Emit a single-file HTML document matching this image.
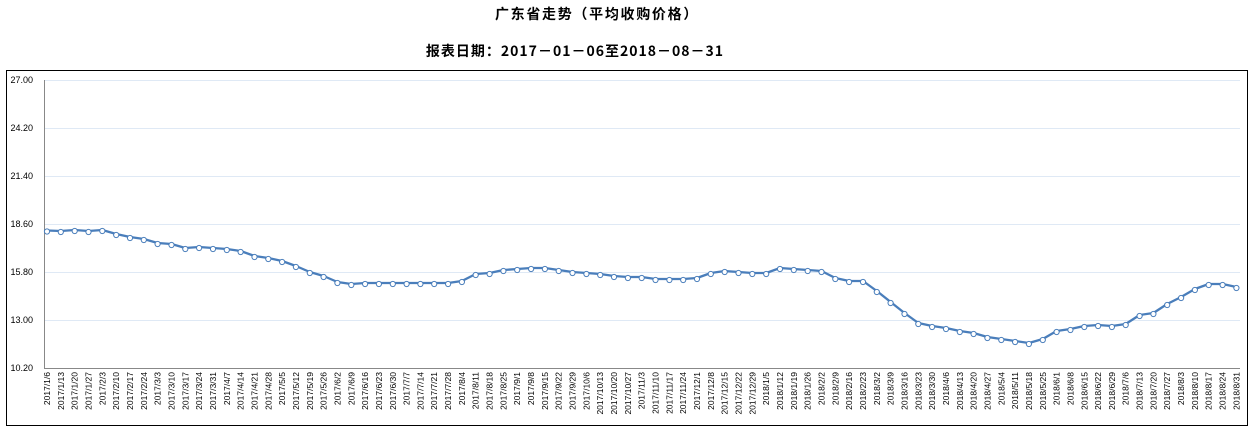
<!DOCTYPE html>
<html><head><meta charset="utf-8"><style>
body{margin:0;background:#fff;}
svg{display:block;font-family:"Liberation Sans","Noto Sans CJK SC",sans-serif;}
.t{font-family:"Noto Sans CJK SC","WenQuanYi Zen Hei",sans-serif;font-weight:bold;font-size:14px;}
.y{font-size:9px;fill:#000;text-anchor:end;}
.x text{font-size:8.5px;fill:#000;text-anchor:end;}
</style></head><body>
<svg width="1252" height="431" viewBox="0 0 1252 431">
<text class="t" x="597" y="19" text-anchor="middle" letter-spacing="1.7">广东省走势（平均收购价格）</text>
<text class="t" x="575" y="56" text-anchor="middle" letter-spacing="1">报表日期：2017－01－06至2018－08－31</text>
<rect x="6.5" y="70.5" width="1241" height="355" fill="none" stroke="#000" stroke-width="1"/>
<g stroke="#dfe9f5" stroke-width="1">
<line x1="44" y1="80.5" x2="1240" y2="80.5"/><line x1="44" y1="128.5" x2="1240" y2="128.5"/>
<line x1="44" y1="176.5" x2="1240" y2="176.5"/><line x1="44" y1="224.5" x2="1240" y2="224.5"/>
<line x1="44" y1="272.5" x2="1240" y2="272.5"/><line x1="44" y1="320.5" x2="1240" y2="320.5"/>
</g>
<line x1="44.5" y1="80" x2="44.5" y2="368" stroke="#888"/>
<line x1="44" y1="368.5" x2="1240" y2="368.5" stroke="#888"/>
<g class="y">
<text x="33" y="83">27.00</text><text x="33" y="131">24.20</text><text x="33" y="179">21.40</text>
<text x="33" y="227">18.60</text><text x="33" y="275">15.80</text><text x="33" y="323">13.00</text><text x="33" y="371">10.20</text>
</g>
<defs><marker id="m" markerWidth="8" markerHeight="8" refX="4" refY="3" markerUnits="userSpaceOnUse"><circle cx="4" cy="4" r="2.6" fill="#fff" stroke="#4a7ebb" stroke-width="1"/></marker></defs>
<polyline fill="none" stroke="#4a7ebb" stroke-width="2.3" stroke-linejoin="round" marker-start="url(#m)" marker-mid="url(#m)" marker-end="url(#m)" points="47,230.5 60.8,231 74.7,230 88.5,231 102.3,230 116.2,234 130,237 143.8,239 157.6,243 171.5,244 185.3,248 199.1,247 213,248 226.8,249 240.6,251 254.5,256 268.3,258 282.1,261 295.9,266 309.8,272 323.6,276 337.4,282 351.3,284 365.1,283 378.9,283 392.8,283 406.6,283 420.4,283 434.2,283 448.1,283 461.9,281 475.7,274 489.6,273 503.4,270 517.2,269 531.1,268 544.9,268 558.7,270 572.5,272 586.4,273 600.2,274 614,276 627.9,277 641.7,277 655.5,279 669.4,279 683.2,279 697,278 710.8,273 724.7,271 738.5,272 752.3,273 766.2,273 780,268 793.8,269 807.7,270 821.5,271 835.3,278 849.1,281 863,281 876.8,291 890.6,302 904.5,313 918.3,323 932.1,326 946,328 959.8,331 973.6,333 987.4,337 1001.3,339 1015.1,341 1028.9,343 1042.8,339 1056.6,331 1070.4,329 1084.3,326 1098.1,325 1111.9,326 1125.7,324 1139.6,315 1153.4,313 1167.2,304 1181.1,297 1194.9,289 1208.7,284 1222.6,284 1236.4,287"/>
<g class="x">
<text transform="translate(50,372) rotate(-90)">2017/1/6</text>
<text transform="translate(63.8,372) rotate(-90)">2017/1/13</text>
<text transform="translate(77.7,372) rotate(-90)">2017/1/20</text>
<text transform="translate(91.5,372) rotate(-90)">2017/1/27</text>
<text transform="translate(105.3,372) rotate(-90)">2017/2/3</text>
<text transform="translate(119.2,372) rotate(-90)">2017/2/10</text>
<text transform="translate(133,372) rotate(-90)">2017/2/17</text>
<text transform="translate(146.8,372) rotate(-90)">2017/2/24</text>
<text transform="translate(160.6,372) rotate(-90)">2017/3/3</text>
<text transform="translate(174.5,372) rotate(-90)">2017/3/10</text>
<text transform="translate(188.3,372) rotate(-90)">2017/3/17</text>
<text transform="translate(202.1,372) rotate(-90)">2017/3/24</text>
<text transform="translate(216,372) rotate(-90)">2017/3/31</text>
<text transform="translate(229.8,372) rotate(-90)">2017/4/7</text>
<text transform="translate(243.6,372) rotate(-90)">2017/4/14</text>
<text transform="translate(257.5,372) rotate(-90)">2017/4/21</text>
<text transform="translate(271.3,372) rotate(-90)">2017/4/28</text>
<text transform="translate(285.1,372) rotate(-90)">2017/5/5</text>
<text transform="translate(298.9,372) rotate(-90)">2017/5/12</text>
<text transform="translate(312.8,372) rotate(-90)">2017/5/19</text>
<text transform="translate(326.6,372) rotate(-90)">2017/5/26</text>
<text transform="translate(340.4,372) rotate(-90)">2017/6/2</text>
<text transform="translate(354.3,372) rotate(-90)">2017/6/9</text>
<text transform="translate(368.1,372) rotate(-90)">2017/6/16</text>
<text transform="translate(381.9,372) rotate(-90)">2017/6/23</text>
<text transform="translate(395.8,372) rotate(-90)">2017/6/30</text>
<text transform="translate(409.6,372) rotate(-90)">2017/7/7</text>
<text transform="translate(423.4,372) rotate(-90)">2017/7/14</text>
<text transform="translate(437.2,372) rotate(-90)">2017/7/21</text>
<text transform="translate(451.1,372) rotate(-90)">2017/7/28</text>
<text transform="translate(464.9,372) rotate(-90)">2017/8/4</text>
<text transform="translate(478.7,372) rotate(-90)">2017/8/11</text>
<text transform="translate(492.6,372) rotate(-90)">2017/8/18</text>
<text transform="translate(506.4,372) rotate(-90)">2017/8/25</text>
<text transform="translate(520.2,372) rotate(-90)">2017/9/1</text>
<text transform="translate(534.1,372) rotate(-90)">2017/9/8</text>
<text transform="translate(547.9,372) rotate(-90)">2017/9/15</text>
<text transform="translate(561.7,372) rotate(-90)">2017/9/22</text>
<text transform="translate(575.5,372) rotate(-90)">2017/9/29</text>
<text transform="translate(589.4,372) rotate(-90)">2017/10/6</text>
<text transform="translate(603.2,372) rotate(-90)">2017/10/13</text>
<text transform="translate(617,372) rotate(-90)">2017/10/20</text>
<text transform="translate(630.9,372) rotate(-90)">2017/10/27</text>
<text transform="translate(644.7,372) rotate(-90)">2017/11/3</text>
<text transform="translate(658.5,372) rotate(-90)">2017/11/10</text>
<text transform="translate(672.4,372) rotate(-90)">2017/11/17</text>
<text transform="translate(686.2,372) rotate(-90)">2017/11/24</text>
<text transform="translate(700,372) rotate(-90)">2017/12/1</text>
<text transform="translate(713.8,372) rotate(-90)">2017/12/8</text>
<text transform="translate(727.7,372) rotate(-90)">2017/12/15</text>
<text transform="translate(741.5,372) rotate(-90)">2017/12/22</text>
<text transform="translate(755.3,372) rotate(-90)">2017/12/29</text>
<text transform="translate(769.2,372) rotate(-90)">2018/1/5</text>
<text transform="translate(783,372) rotate(-90)">2018/1/12</text>
<text transform="translate(796.8,372) rotate(-90)">2018/1/19</text>
<text transform="translate(810.7,372) rotate(-90)">2018/1/26</text>
<text transform="translate(824.5,372) rotate(-90)">2018/2/2</text>
<text transform="translate(838.3,372) rotate(-90)">2018/2/9</text>
<text transform="translate(852.1,372) rotate(-90)">2018/2/16</text>
<text transform="translate(866,372) rotate(-90)">2018/2/23</text>
<text transform="translate(879.8,372) rotate(-90)">2018/3/2</text>
<text transform="translate(893.6,372) rotate(-90)">2018/3/9</text>
<text transform="translate(907.5,372) rotate(-90)">2018/3/16</text>
<text transform="translate(921.3,372) rotate(-90)">2018/3/23</text>
<text transform="translate(935.1,372) rotate(-90)">2018/3/30</text>
<text transform="translate(949,372) rotate(-90)">2018/4/6</text>
<text transform="translate(962.8,372) rotate(-90)">2018/4/13</text>
<text transform="translate(976.6,372) rotate(-90)">2018/4/20</text>
<text transform="translate(990.4,372) rotate(-90)">2018/4/27</text>
<text transform="translate(1004.3,372) rotate(-90)">2018/5/4</text>
<text transform="translate(1018.1,372) rotate(-90)">2018/5/11</text>
<text transform="translate(1031.9,372) rotate(-90)">2018/5/18</text>
<text transform="translate(1045.8,372) rotate(-90)">2018/5/25</text>
<text transform="translate(1059.6,372) rotate(-90)">2018/6/1</text>
<text transform="translate(1073.4,372) rotate(-90)">2018/6/8</text>
<text transform="translate(1087.3,372) rotate(-90)">2018/6/15</text>
<text transform="translate(1101.1,372) rotate(-90)">2018/6/22</text>
<text transform="translate(1114.9,372) rotate(-90)">2018/6/29</text>
<text transform="translate(1128.7,372) rotate(-90)">2018/7/6</text>
<text transform="translate(1142.6,372) rotate(-90)">2018/7/13</text>
<text transform="translate(1156.4,372) rotate(-90)">2018/7/20</text>
<text transform="translate(1170.2,372) rotate(-90)">2018/7/27</text>
<text transform="translate(1184.1,372) rotate(-90)">2018/8/3</text>
<text transform="translate(1197.9,372) rotate(-90)">2018/8/10</text>
<text transform="translate(1211.7,372) rotate(-90)">2018/8/17</text>
<text transform="translate(1225.6,372) rotate(-90)">2018/8/24</text>
<text transform="translate(1239.4,372) rotate(-90)">2018/8/31</text>
</g>
</svg>
</body></html>
